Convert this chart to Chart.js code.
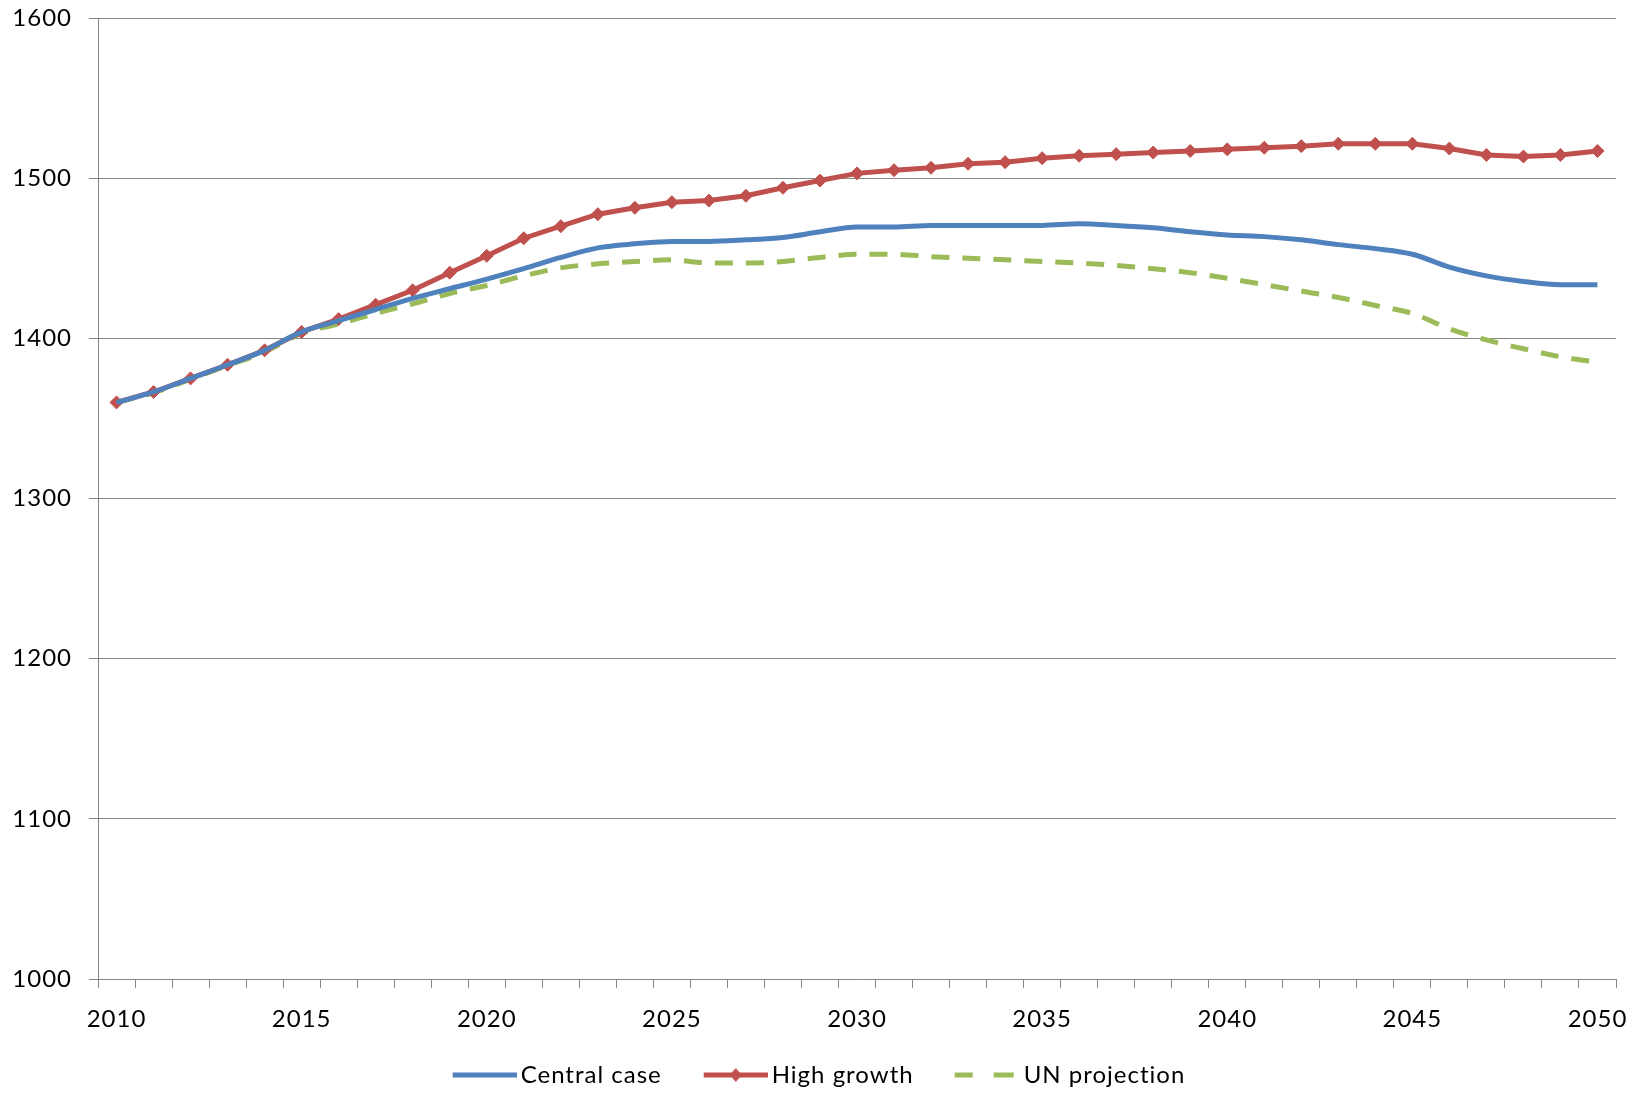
<!DOCTYPE html>
<html>
<head>
<meta charset="utf-8">
<script src="https://cdn.jsdelivr.net/npm/chart.js@4.4.1/dist/chart.umd.min.js"></script>
<style>
  html, body { margin: 0; padding: 0; background: #fff; }
  #chart { display: block; }
</style>
</head>
<body>
<canvas id="chart" width="1633" height="1113"></canvas>
<script>
  const years = [];
  for (let y = 2010; y <= 2050; y++) years.push(y);

  const centralCase = [1360, 1366.5, 1375, 1383.5, 1392.5, 1404, 1411, 1418, 1425, 1431,
    1437, 1443.5, 1450.5, 1456.5, 1459, 1460.5, 1460.5, 1461.5, 1463, 1466.5,
    1469.5, 1469.5, 1470.5, 1470.5, 1470.5, 1470.5, 1471.5, 1470.5, 1469, 1466.5,
    1464.5, 1463.5, 1461.5, 1458.5, 1456, 1452.5, 1444.5, 1439, 1435.5, 1433.5, 1433.5];

  const highGrowth = [1360, 1366.5, 1375, 1383.5, 1392.5, 1404, 1412, 1421, 1430, 1441,
    1451.5, 1462.5, 1470, 1477.5, 1481.5, 1485, 1486, 1489, 1494, 1498.5,
    1503, 1505, 1506.5, 1509, 1510, 1512.5, 1514, 1515, 1516, 1517,
    1518, 1519, 1520, 1521.5, 1521.5, 1521.5, 1518.5, 1514.5, 1513.5, 1514.5, 1517];

  const unProjection = [1360, 1366, 1374.5, 1383, 1391.5, 1403, 1409, 1415.5, 1421.5, 1428,
    1433, 1439, 1444, 1446.5, 1448, 1449, 1447, 1447, 1448, 1450.5,
    1452.5, 1452.5, 1451, 1450, 1449, 1448, 1447, 1445.5, 1443.5, 1441,
    1437.5, 1433.5, 1429.5, 1425.5, 1420.5, 1415.5, 1406, 1399, 1393.5, 1388.5, 1385];

  const yTicks = [1000, 1100, 1200, 1300, 1400, 1500, 1600];

  const BLUE = '#4F81BD';
  const RED = '#C0504D';
  const GREEN = '#9BBB59';
  const GRID = '#868686';
  const FONT = { family: 'Lato, "Open Sans", sans-serif', size: 24 };

  // legend swatches drawn like Excel's (plain line, line with diamond, two dashes)
  function swatch(color, kind) {
    const c = document.createElement('canvas');
    c.width = 94; c.height = 18;
    const g = c.getContext('2d');
    g.strokeStyle = color;
    g.fillStyle = color;
    g.lineWidth = 5;
    g.beginPath();
    if (kind === 'dash') {
      g.moveTo(29, 9); g.lineTo(47, 9);
      g.moveTo(68, 9); g.lineTo(88, 9);
    } else {
      g.moveTo(30, 9); g.lineTo(94, 9);
    }
    g.stroke();
    if (kind === 'marker') {
      g.beginPath();
      g.moveTo(62, 2); g.lineTo(68, 9); g.lineTo(62, 16); g.lineTo(56, 9);
      g.closePath();
      g.fill();
    }
    return c;
  }
  const swatches = [swatch(BLUE, 'line'), swatch(RED, 'marker'), swatch(GREEN, 'dash')];

  // Calibri-like wide spacing of the original text
  const spacing = {
    id: 'spacing',
    beforeUpdate: (chart) => { chart.ctx.letterSpacing = '1px'; },
    beforeDraw: (chart) => { chart.ctx.letterSpacing = '1px'; }
  };

  new Chart(document.getElementById('chart'), {
    type: 'line',
    data: {
      labels: years,
      datasets: [
        {
          label: 'Central case',
          data: centralCase,
          borderColor: BLUE,
          backgroundColor: BLUE,
          borderWidth: 5,
          pointRadius: 0,
          cubicInterpolationMode: 'monotone',
          fill: false
        },
        {
          label: 'High growth',
          data: highGrowth,
          borderColor: RED,
          backgroundColor: RED,
          borderWidth: 5,
          pointStyle: 'rectRot',
          pointRadius: 6.5,
          pointBorderWidth: 1,
          tension: 0,
          fill: false
        },
        {
          label: 'UN projection',
          data: unProjection,
          borderColor: GREEN,
          backgroundColor: GREEN,
          borderWidth: 5,
          borderDash: [18, 13],
          pointRadius: 0,
          cubicInterpolationMode: 'monotone',
          fill: false
        }
      ]
    },
    plugins: [spacing],
    options: {
      responsive: false,
      animation: false,
      devicePixelRatio: 1,
      layout: { padding: { top: 18, right: 17, left: 0, bottom: 16 } },
      plugins: {
        tooltip: { enabled: false },
        legend: {
          position: 'bottom',
          labels: {
            usePointStyle: true,
            pointStyleWidth: 78,
            padding: 20,
            color: '#000',
            font: FONT,
            generateLabels: (chart) => {
              const items = Chart.defaults.plugins.legend.labels.generateLabels(chart);
              items.forEach((it, i) => { it.pointStyle = swatches[i]; });
              return items;
            }
          }
        }
      },
      scales: {
        x: {
          type: 'category',
          offset: true,
          grid: {
            offset: true,
            drawOnChartArea: false,
            drawTicks: true,
            tickLength: 9,
            color: GRID,
            lineWidth: 1
          },
          border: { display: true, color: GRID, width: 1 },
          ticks: {
            autoSkip: false,
            maxRotation: 0,
            padding: 17,
            color: '#000',
            font: FONT,
            callback: (v, i) => (years[i] % 5 === 0 ? String(years[i]) : '')
          },
          afterFit: (s) => { s.height = 64; s.paddingLeft = 0; s.paddingRight = 0; }
        },
        y: {
          min: yTicks[0],
          max: yTicks[yTicks.length - 1],
          afterBuildTicks: (s) => { s.ticks = yTicks.map(v => ({ value: v })); },
          grid: { color: GRID, lineWidth: 1, tickLength: 9 },
          border: { display: true, color: GRID, width: 1 },
          ticks: { padding: 17, color: '#000', font: FONT, callback: (v) => String(v) },
          afterFit: (s) => { s.width = 98; s.paddingTop = 0; s.paddingBottom = 0; }
        }
      }
    }
  });
</script>
</body>
</html>
